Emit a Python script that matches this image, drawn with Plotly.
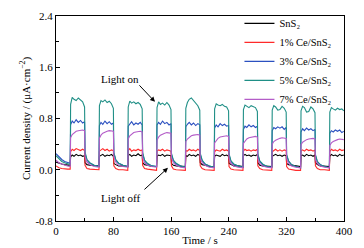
import plotly.graph_objects as go

# ---- time grid: initial dark segment, then 10 on/off cycles (period 40 s, on 20 s)
init_times = [0, 4, 8, 12, 16, 19.7]
cycle_starts = [20, 60, 100, 140, 180, 220, 260, 300, 340, 380]
on_offsets = [0.3, 2.5, 5, 8, 11, 14, 17, 19.7]
off_offsets = [20.3, 23, 27, 33, 39.7]

time = list(init_times)
for c in cycle_starts:
    for o in on_offsets + off_offsets:
        if c + o <= 400:
            time.append(round(c + o, 2))

# ---- current density values (µA/cm²)
sns2 = [
    0.12, 0.10, 0.09, 0.08, 0.07, 0.07,
    0.20, 0.23, 0.21, 0.24, 0.22, 0.23, 0.21, 0.22, 0.11, 0.08, 0.07, 0.06, 0.06,
    0.21, 0.22, 0.24, 0.21, 0.23, 0.22, 0.24, 0.21, 0.10, 0.08, 0.06, 0.06, 0.05,
    0.22, 0.24, 0.21, 0.23, 0.22, 0.25, 0.22, 0.23, 0.11, 0.08, 0.07, 0.05, 0.05,
    0.21, 0.23, 0.22, 0.24, 0.21, 0.23, 0.22, 0.22, 0.10, 0.07, 0.06, 0.06, 0.05,
    0.22, 0.21, 0.24, 0.22, 0.23, 0.21, 0.24, 0.22, 0.11, 0.08, 0.07, 0.05, 0.05,
    0.21, 0.23, 0.22, 0.21, 0.24, 0.22, 0.23, 0.21, 0.10, 0.08, 0.06, 0.06, 0.05,
    0.22, 0.24, 0.22, 0.23, 0.21, 0.23, 0.22, 0.24, 0.11, 0.07, 0.06, 0.05, 0.05,
    0.21, 0.22, 0.24, 0.22, 0.23, 0.21, 0.23, 0.22, 0.10, 0.08, 0.07, 0.06, 0.05,
    0.22, 0.23, 0.21, 0.24, 0.22, 0.23, 0.21, 0.23, 0.11, 0.08, 0.06, 0.05, 0.05,
    0.21, 0.24, 0.22, 0.23, 0.21, 0.24, 0.22, 0.23,
]
ce1 = [
    0.06, 0.03, 0.02, 0.01, 0.01, 0.01,
    0.28, 0.32, 0.30, 0.33, 0.31, 0.30, 0.32, 0.30, 0.07, 0.02, 0.01, 0.00, 0.00,
    0.29, 0.31, 0.33, 0.30, 0.32, 0.29, 0.31, 0.30, 0.06, 0.02, 0.00, 0.00, -0.01,
    0.30, 0.33, 0.29, 0.31, 0.30, 0.32, 0.30, 0.31, 0.07, 0.02, 0.01, 0.00, -0.01,
    0.29, 0.31, 0.30, 0.32, 0.29, 0.31, 0.30, 0.29, 0.06, 0.01, 0.00, -0.01, -0.01,
    0.30, 0.29, 0.32, 0.30, 0.31, 0.29, 0.32, 0.30, 0.06, 0.02, 0.00, 0.00, -0.01,
    0.28, 0.31, 0.30, 0.29, 0.32, 0.30, 0.31, 0.29, 0.05, 0.01, 0.00, -0.01, -0.01,
    0.29, 0.32, 0.30, 0.31, 0.29, 0.31, 0.30, 0.32, 0.06, 0.02, 0.00, 0.00, -0.01,
    0.28, 0.30, 0.32, 0.29, 0.31, 0.29, 0.31, 0.30, 0.05, 0.01, 0.00, -0.01, -0.01,
    0.29, 0.31, 0.29, 0.32, 0.30, 0.31, 0.29, 0.31, 0.06, 0.02, 0.00, 0.00, -0.01,
    0.28, 0.32, 0.30, 0.31, 0.29, 0.32, 0.30, 0.31,
]
ce3 = [
    0.25, 0.20, 0.16, 0.13, 0.11, 0.10,
    0.70, 0.76, 0.73, 0.78, 0.74, 0.77, 0.73, 0.75, 0.25, 0.15, 0.10, 0.07, 0.05,
    0.69, 0.74, 0.71, 0.76, 0.72, 0.75, 0.71, 0.73, 0.26, 0.15, 0.10, 0.07, 0.05,
    0.68, 0.72, 0.75, 0.70, 0.73, 0.71, 0.74, 0.70, 0.25, 0.14, 0.09, 0.06, 0.05,
    0.70, 0.74, 0.71, 0.76, 0.72, 0.74, 0.70, 0.72, 0.24, 0.14, 0.09, 0.06, 0.04,
    0.67, 0.71, 0.74, 0.70, 0.73, 0.69, 0.72, 0.70, 0.24, 0.14, 0.09, 0.06, 0.04,
    0.65, 0.70, 0.67, 0.72, 0.69, 0.71, 0.68, 0.69, 0.23, 0.13, 0.08, 0.06, 0.04,
    0.63, 0.68, 0.66, 0.70, 0.67, 0.69, 0.66, 0.68, 0.23, 0.13, 0.08, 0.05, 0.04,
    0.61, 0.66, 0.64, 0.67, 0.65, 0.67, 0.63, 0.66, 0.22, 0.13, 0.08, 0.05, 0.03,
    0.59, 0.64, 0.61, 0.65, 0.62, 0.64, 0.61, 0.63, 0.22, 0.12, 0.08, 0.05, 0.03,
    0.57, 0.61, 0.59, 0.62, 0.60, 0.62, 0.58, 0.60,
]
ce5 = [
    0.22, 0.17, 0.13, 0.11, 0.09, 0.08,
    1.02, 1.13, 1.10, 1.08, 1.12, 1.09, 1.06, 0.98, 0.28, 0.16, 0.11, 0.07, 0.05,
    1.00, 1.08, 1.06, 1.09, 1.05, 1.07, 1.03, 0.96, 0.27, 0.16, 0.10, 0.07, 0.05,
    0.98, 1.07, 1.04, 1.06, 1.03, 1.05, 1.02, 0.95, 0.27, 0.15, 0.10, 0.06, 0.05,
    0.97, 1.06, 1.02, 1.04, 1.01, 1.05, 1.01, 0.94, 0.26, 0.15, 0.10, 0.06, 0.04,
    0.96, 1.05, 1.10, 1.12, 1.08, 1.04, 1.00, 0.93, 0.26, 0.15, 0.09, 0.06, 0.04,
    0.95, 1.03, 1.01, 1.00, 1.02, 0.99, 0.98, 0.92, 0.25, 0.14, 0.09, 0.06, 0.04,
    0.94, 1.01, 0.99, 0.97, 1.00, 0.98, 0.97, 0.91, 0.25, 0.14, 0.09, 0.05, 0.04,
    0.93, 1.00, 0.98, 0.93, 0.94, 0.99, 0.96, 0.90, 0.24, 0.14, 0.08, 0.05, 0.03,
    0.92, 0.99, 0.97, 0.90, 0.91, 0.98, 0.95, 0.89, 0.24, 0.13, 0.08, 0.05, 0.03,
    0.90, 0.97, 0.95, 0.93, 0.96, 0.94, 0.95, 0.92,
]
ce7 = [
    0.15, 0.11, 0.09, 0.07, 0.06, 0.05,
    0.50, 0.55, 0.58, 0.60, 0.61, 0.62, 0.62, 0.61, 0.20, 0.12, 0.08, 0.05, 0.04,
    0.49, 0.54, 0.57, 0.59, 0.60, 0.61, 0.61, 0.60, 0.20, 0.12, 0.07, 0.05, 0.04,
    0.48, 0.53, 0.56, 0.58, 0.59, 0.60, 0.60, 0.59, 0.19, 0.11, 0.07, 0.05, 0.04,
    0.46, 0.51, 0.54, 0.56, 0.57, 0.58, 0.58, 0.57, 0.19, 0.11, 0.07, 0.04, 0.03,
    0.44, 0.48, 0.51, 0.53, 0.54, 0.55, 0.55, 0.54, 0.18, 0.11, 0.07, 0.04, 0.03,
    0.42, 0.46, 0.49, 0.51, 0.52, 0.53, 0.53, 0.52, 0.18, 0.10, 0.06, 0.04, 0.03,
    0.41, 0.45, 0.48, 0.50, 0.51, 0.52, 0.52, 0.51, 0.17, 0.10, 0.06, 0.04, 0.03,
    0.40, 0.44, 0.46, 0.48, 0.49, 0.50, 0.50, 0.49, 0.17, 0.10, 0.06, 0.04, 0.03,
    0.39, 0.43, 0.45, 0.47, 0.48, 0.49, 0.49, 0.48, 0.16, 0.10, 0.06, 0.04, 0.03,
    0.38, 0.42, 0.44, 0.46, 0.47, 0.48, 0.48, 0.47,
]

series_names = ["SnS₂", "1% Ce/SnS₂", "3% Ce/SnS₂", "5% Ce/SnS₂", "7% Ce/SnS₂"]
series_values = [sns2, ce1, ce3, ce5, ce7]
series_colors = ["#000000", "#ff2a2a", "#2b50c0", "#1f8f86", "#b45cc8"]

x_ticks = [0, 80, 160, 240, 320, 400]
y_ticks = [-0.8, 0.0, 0.8, 1.6, 2.4]

FONT = "Liberation Serif"

fig = go.Figure()
for name, vals, col in zip(series_names, series_values, series_colors):
    fig.add_trace(go.Scatter(x=time, y=vals, mode="lines", name=name,
                             line=dict(color=col, width=1.1)))

axis_common = dict(showline=True, linecolor="black", linewidth=1, mirror=True,
                   ticks="inside", ticklen=4, tickcolor="black", showgrid=False,
                   zeroline=False, automargin=False,
                   tickfont=dict(family=FONT, size=11, color="black"))

fig.update_xaxes(range=[0, 400], tickvals=x_ticks, ticktext=[str(v) for v in x_ticks],
                 minor=dict(tickvals=[40, 120, 200, 280, 360], ticks="inside", ticklen=3,
                            tickcolor="black"),
                 title=dict(text="Time / s", font=dict(family=FONT, size=11, color="black"),
                            standoff=0),
                 **axis_common)
fig.update_yaxes(range=[-0.8, 2.4], tickvals=y_ticks, ticktext=["-0.8", "0.0", "0.8", "1.6", "2.4"],
                 minor=dict(tickvals=[-0.4, 0.4, 1.2, 2.0], ticks="inside", ticklen=3,
                            tickcolor="black"),
                 title=dict(text="Current density / (μA·cm<sup>−2</sup>)",
                            font=dict(family=FONT, size=11, color="black"), standoff=2),
                 **axis_common)

fig.update_layout(annotations=[
    dict(x=137.5, y=1.06, xref="x", yref="y", ax=-17, ay=-18, text="",
         showarrow=True, arrowhead=2, arrowsize=1, arrowwidth=1, arrowcolor="black"),
    dict(x=89, y=1.42, xref="x", yref="y", text="Light on", showarrow=False,
         font=dict(family=FONT, size=11, color="black")),
    dict(x=155.5, y=0.03, xref="x", yref="y", ax=-25, ay=23, text="",
         showarrow=True, arrowhead=2, arrowsize=1, arrowwidth=1, arrowcolor="black"),
    dict(x=90, y=-0.44, xref="x", yref="y", text="Light off", showarrow=False,
         font=dict(family=FONT, size=11, color="black")),
])

fig.update_layout(
    width=364, height=248,
    margin=dict(l=56, r=20, t=9, b=27),
    paper_bgcolor="white", plot_bgcolor="white",
    font=dict(family=FONT, size=11, color="black"),
    showlegend=True,
    legend=dict(x=0.637, y=1.035, xanchor="left", yanchor="top",
                bgcolor="rgba(0,0,0,0)", font=dict(family=FONT, size=10.5, color="black"),
                tracegroupgap=0, itemwidth=30),
)

fig.write_html("out.html", config={"displayModeBar": False},
               post_script="document.body.style.margin='0';document.body.style.overflow='hidden';")
